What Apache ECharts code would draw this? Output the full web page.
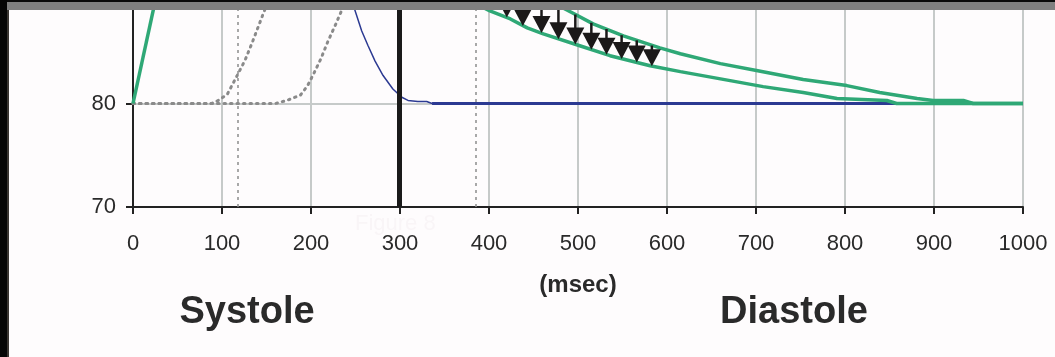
<!DOCTYPE html>
<html>
<head>
<meta charset="utf-8">
<script src="https://cdn.jsdelivr.net/npm/echarts@6/dist/echarts.min.js"></script>
<style>
html,body{margin:0;padding:0;background:#fefcfd;}
#chart{width:1055px;height:357px;}
</style>
</head>
<body>
<div id="chart"></div>
<script>
// ---- data ----
const xTickValues = [0, 100, 200, 300, 400, 500, 600, 700, 800, 900, 1000];
const yTickValues = [70, 80];

const greenRiseX = [0, 26];
const greenRiseY = [80, 90.3];

const greenUpperX = [457, 494, 517, 551, 592, 615, 660, 702, 753, 802, 839, 881, 899, 933, 944, 1000];
const greenUpperY = [90.4, 88.75, 87.69, 86.54, 85.38, 84.81, 83.85, 83.17, 82.31, 81.73, 81.06, 80.48, 80.29, 80.29, 80.0, 80.0];

const greenLowerX = [379, 401, 424, 443, 461, 502, 536, 581, 615, 671, 708, 753, 791, 847, 858, 1000];
const greenLowerY = [89.9, 88.94, 88.17, 87.31, 86.73, 85.58, 84.62, 83.65, 83.08, 82.21, 81.63, 81.06, 80.48, 80.29, 80.0, 80.0];

const grayAX = [0, 88, 96, 106, 117, 126, 134, 142, 150];
const grayAY = [80, 80, 80.3, 80.9, 82.7, 84.2, 85.9, 87.7, 89.5];

const grayBX = [0, 160, 173, 188, 196, 202, 211, 219, 228, 237];
const grayBY = [80, 80, 80.3, 80.8, 81.7, 82.7, 84.3, 86.0, 87.7, 89.5];

const blueDescX = [245, 249, 257, 264, 272, 281, 292, 302, 309, 320, 330, 336];
const blueDescY = [90.3, 89.1, 87.0, 85.6, 84.1, 82.7, 81.4, 80.6, 80.3, 80.2, 80.2, 80.0];

const blueFlatX = [336, 1000];
const blueFlatY = [80, 80];

const arrowX = [420, 438, 459, 478, 497, 515, 532, 549, 566, 583];
const arrowTop = [90.5, 90.0, 89.6, 89.1, 88.6, 87.8, 87.2, 86.6, 86.1, 85.6];
const arrowTip = [88.3, 87.5, 86.8, 86.2, 85.7, 85.2, 84.7, 84.3, 83.95, 83.6];

const systoleEnd = 299;
const dottedMarks = [118, 385];

// ---- build ----
const zip = (xs, ys) => xs.map((x, i) => [x, ys[i]]);
const FONT = "'Liberation Sans', Arial, sans-serif";
const GREEN = '#2fa876';
const BLUE = '#2c3a92';
const GRAY = '#8a8a8a';

const chart = echarts.init(document.getElementById('chart'), null, {renderer: 'canvas'});

const option = {
  animation: false,
  backgroundColor: '#fefcfd',
  grid: {left: 133, right: 32, top: -1, bottom: 150, show: true, borderColor: '#222', borderWidth: 2, backgroundColor: 'transparent'},
  xAxis: {
    type: 'value', min: 0, max: 1000, interval: 100,
    axisLine: {show: true, lineStyle: {color: '#222', width: 2}},
    axisTick: {show: true, inside: false, length: 7, lineStyle: {color: '#222', width: 2}},
    axisLabel: {color: '#2a2a2a', fontSize: 22, fontFamily: FONT, margin: 26,
      formatter: v => xTickValues.includes(v) ? String(v) : ''},
    splitLine: {show: true, lineStyle: {color: '#c6cac9', width: 2}}
  },
  yAxis: {
    type: 'value', min: 70, max: 90, interval: 10,
    axisLine: {show: true, lineStyle: {color: '#222', width: 2}},
    axisTick: {show: true, inside: false, length: 7, lineStyle: {color: '#222', width: 2}},
    axisLabel: {color: '#2a2a2a', fontSize: 22, fontFamily: FONT, margin: 17, showMaxLabel: false,
      formatter: v => yTickValues.includes(v) ? String(v) : ''},
    splitLine: {show: true, lineStyle: {color: '#c6cac9', width: 2}}
  },
  series: [
    {type: 'line', data: zip(grayAX, grayAY), symbol: 'none', z: 2,
      lineStyle: {color: GRAY, width: 3, type: [1.5, 5], cap: 'round'}},
    {type: 'line', data: zip(grayBX, grayBY), symbol: 'none', z: 2,
      lineStyle: {color: GRAY, width: 3, type: [1.5, 5], cap: 'round'}},
    {type: 'line', data: zip(blueDescX, blueDescY), symbol: 'none', z: 3,
      lineStyle: {color: BLUE, width: 1.5},
      markLine: {
        silent: true, symbol: 'none', label: {show: false},
        data: [
          {xAxis: systoleEnd, lineStyle: {color: '#1a1a1a', width: 5, type: 'solid'}},
          {xAxis: dottedMarks[0], lineStyle: {color: '#8c8c8c', width: 1.5, type: [3, 4]}},
          {xAxis: dottedMarks[1], lineStyle: {color: '#8c8c8c', width: 1.5, type: [3, 4]}}
        ]
      }},
    {type: 'line', data: zip(blueFlatX, blueFlatY), symbol: 'none', z: 3,
      lineStyle: {color: BLUE, width: 3}},
    {type: 'line', data: zip(greenRiseX, greenRiseY), symbol: 'none', z: 4,
      lineStyle: {color: GREEN, width: 3.5}},
    {type: 'line', data: zip(greenUpperX, greenUpperY), symbol: 'none', z: 4,
      lineStyle: {color: GREEN, width: 3.5}},
    {type: 'line', data: zip(greenLowerX, greenLowerY), symbol: 'none', z: 4,
      lineStyle: {color: GREEN, width: 3.5}},
    {type: 'custom', z: 5, clip: true,
      data: arrowX.map((x, i) => [x, arrowTop[i], arrowTip[i]]),
      renderItem: function (params, api) {
        const x = api.value(0);
        const pTop = api.coord([x, api.value(1)]);
        const pTip = api.coord([x, api.value(2)]);
        const h = 17, hw = 9;
        const baseY = pTip[1] - h;
        const children = [{
          type: 'polygon',
          shape: {points: [[pTip[0] - hw, baseY], [pTip[0] + hw, baseY], [pTip[0], pTip[1]]]},
          style: {fill: '#1b1919'}
        }];
        if (pTop[1] < baseY) {
          children.push({type: 'line', shape: {x1: pTop[0], y1: pTop[1], x2: pTop[0], y2: baseY + 1},
            style: {stroke: '#1b1919', lineWidth: 2.5}});
        }
        return {type: 'group', children: children};
      }}
  ],
  graphic: [
    {type: 'rect', shape: {x: 0, y: 0, width: 1055, height: 10}, style: {fill: '#808080'}, z: 100},
    {type: 'rect', shape: {x: 0, y: 0, width: 1055, height: 2}, style: {fill: '#0a0a0a'}, z: 101},
    {type: 'rect', shape: {x: 0, y: 0, width: 7, height: 357}, style: {fill: '#060606'}, z: 102},
    {type: 'rect', shape: {x: 7, y: 10, width: 2, height: 347}, style: {fill: '#3a3632'}, z: 102},
    {type: 'text', x: 355, y: 224, z: 50, style: {text: 'Figure 8', fontSize: 22, fontFamily: FONT, fill: '#f9f5f7', verticalAlign: 'middle', align: 'left'}},
    {type: 'text', x: 578, y: 285, z: 50, style: {text: '(msec)', fontSize: 24, fontWeight: 'bold', fontFamily: FONT, fill: '#2a2a2a', align: 'center', verticalAlign: 'middle'}},
    {type: 'text', x: 247, y: 313, z: 50, style: {text: 'Systole', fontSize: 38, fontWeight: 'bold', fontFamily: FONT, fill: '#2a2a2a', align: 'center', verticalAlign: 'middle'}},
    {type: 'text', x: 794, y: 313, z: 50, style: {text: 'Diastole', fontSize: 38, fontWeight: 'bold', fontFamily: FONT, fill: '#2a2a2a', align: 'center', verticalAlign: 'middle'}}
  ]
};
chart.setOption(option);
</script>
</body>
</html>
